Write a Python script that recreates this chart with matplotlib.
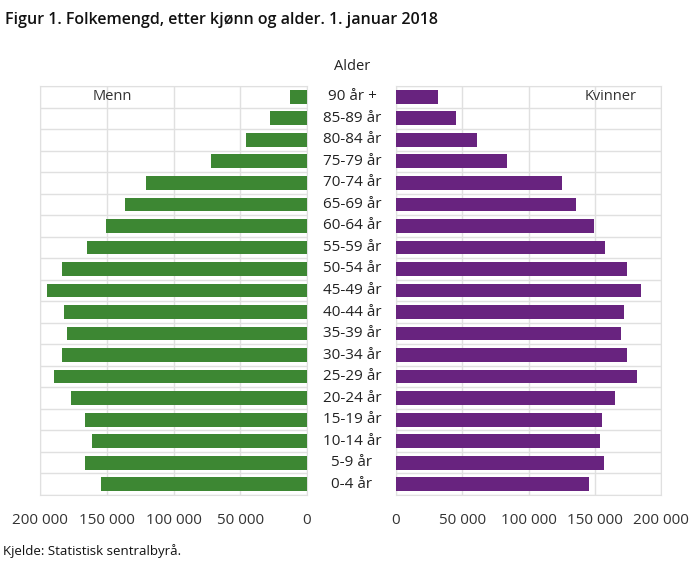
import matplotlib
matplotlib.use('Agg')
import matplotlib.pyplot as plt
from matplotlib.ticker import FuncFormatter
from matplotlib.transforms import blended_transform_factory

# age groups, youngest first
ages = ['0-4 år', '5-9 år', '10-14 år', '15-19 år', '20-24 år', '25-29 år', '30-34 år',
        '35-39 år', '40-44 år', '45-49 år', '50-54 år', '55-59 år', '60-64 år', '65-69 år',
        '70-74 år', '75-79 år', '80-84 år', '85-89 år', '90 år +']
menn = [154300, 166300, 161000, 166300, 176500, 189500, 183300, 180000, 181800, 194800,
        183500, 164600, 150600, 136100, 120600, 72100, 45900, 27700, 12700]
kvinner = [145700, 157200, 154000, 155700, 165300, 181700, 174600, 169600, 172300, 184900,
           174600, 158000, 149700, 135600, 125500, 83500, 61100, 45300, 31900]
ticks = [0, 50000, 100000, 150000, 200000]

plt.rcParams['font.family'] = ['Open Sans', 'DejaVu Sans']
green = '#3d8733'
purple = '#68237f'
grid = '#e0e0e0'
txt = '#333333'

fig = plt.figure(figsize=(7, 5.61), dpi=100)
axL = fig.add_axes([40/700, 66/561, 267/700, 409/561])
axR = fig.add_axes([396/700, 66/561, 265/700, 409/561])

y = list(range(len(ages)))
axL.barh(y, menn, height=0.64, color=green, zorder=3)
axR.barh(y, kvinner, height=0.64, color=purple, zorder=3)

fmt = FuncFormatter(lambda v, p: f'{int(v):,}'.replace(',', ' '))
for ax in (axL, axR):
    ax.set_ylim(-0.5, len(ages) - 0.5)
    ax.set_xlim(0, 200000)
    ax.set_xticks(ticks)
    ax.xaxis.set_major_formatter(fmt)
    ax.set_yticks([i + 0.5 for i in range(-1, len(ages))])
    ax.set_yticklabels([])
    ax.tick_params(length=0, pad=13, labelsize=11, labelcolor=txt)
    ax.grid(True, color=grid, lw=1, zorder=0)
    for s in ax.spines.values():
        s.set_color(grid)
axL.invert_xaxis()

tr = blended_transform_factory(fig.transFigure, axL.transData)
for i, a in enumerate(ages):
    fig.text(352/700, i, a, transform=tr, ha='center', va='center', fontsize=11, color='#222222')

fig.text(352/700, 1 - 67/561, 'Alder', ha='center', va='center', fontsize=10.5, color='#222222')
axL.text(0.27, 18, 'Menn', transform=blended_transform_factory(axL.transAxes, axL.transData),
         ha='center', va='center', fontsize=10.5, color=txt)
axR.text(0.81, 18, 'Kvinner', transform=blended_transform_factory(axR.transAxes, axR.transData),
         ha='center', va='center', fontsize=10.5, color=txt)

fig.text(5/700, 1 - 20/561, 'Figur 1. Folkemengd, etter kjønn og alder. 1. januar 2018',
         ha='left', va='center', fontsize=11.5, fontweight='semibold', color='#111111')
fig.text(3/700, 1 - 551/561, 'Kjelde: Statistisk sentralbyrå.', ha='left', va='center',
         fontsize=9.5, color='#111111')

fig.savefig('out.png', dpi=100)
